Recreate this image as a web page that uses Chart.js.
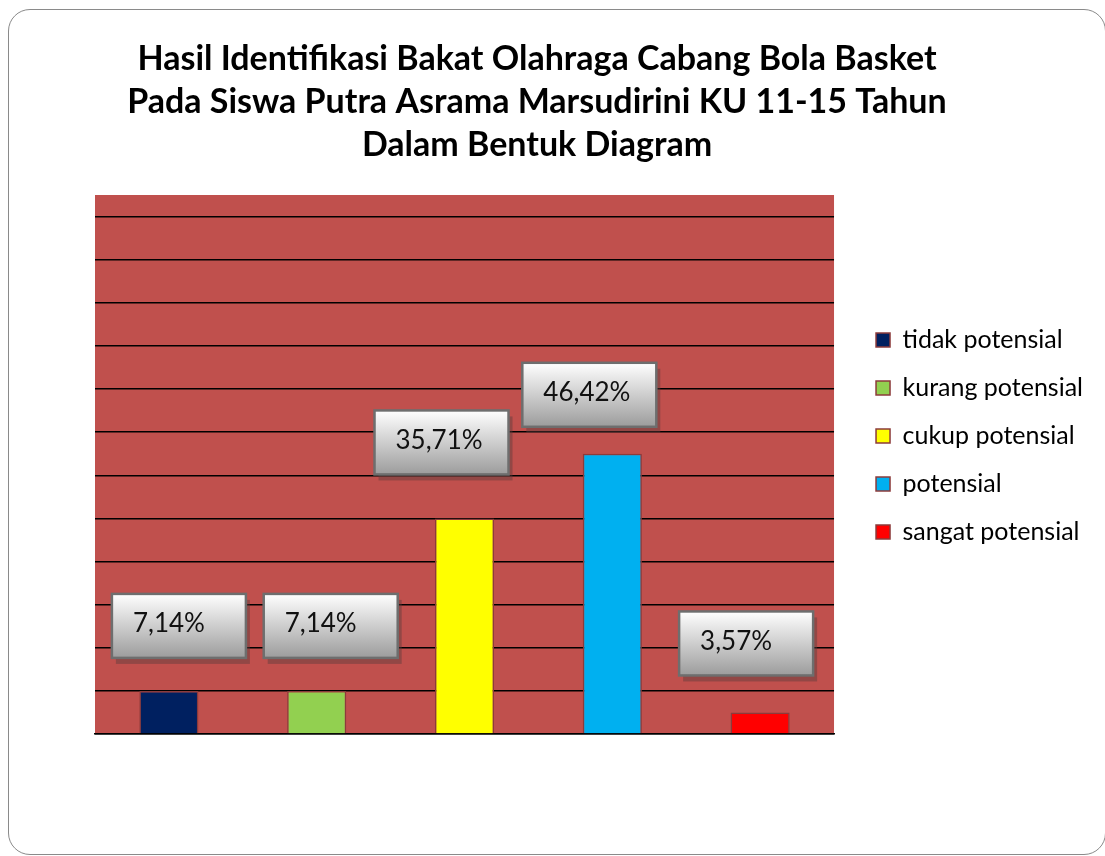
<!DOCTYPE html>
<html>
<head>
<meta charset="utf-8">
<script src="https://cdn.jsdelivr.net/npm/chart.js@4"></script>
<style>
  html, body { margin: 0; padding: 0; background: #fff; overflow: hidden; }
  #frame { position: absolute; left: 8px; top: 9px; width: 1096px; height: 844px;
           border: 1.5px solid #8a8a8a; border-radius: 22px; }
  #wrap { position: absolute; left: 0; top: 0; width: 1105px; height: 856px; }
</style>
</head>
<body>
<div id="frame"></div>
<div id="wrap"><canvas id="barChart" width="1105" height="856"></canvas></div>
<script>
var categories = ["tidak potensial", "kurang potensial", "cukup potensial", "potensial", "sangat potensial"];
var percentages = [7.14, 7.14, 35.71, 46.42, 3.57];
var barColors = ["#002060", "#92D050", "#FFFF00", "#00B0F0", "#FF0000"];
var titleLines = [
  "Hasil Identifikasi Bakat Olahraga Cabang Bola Basket",
  "Pada Siswa Putra Asrama Marsudirini KU 11-15 Tahun",
  "Dalam Bentuk Diagram"
];
var yStep = 100 / 14;
var yMax = 89.29;

// where each value box sits, relative to the top of its bar (dx, dy)
var labelNudge = [[10, -33], [14, -33], [-23, -44], [-23, -27], [-14, -37]];
// legend nudge (dx, dy)
var legendShift = [19, 65];

function fmt(v) {
  return v.toFixed(2).replace(".", ",") + "%";
}

var plotBackground = {
  id: "plotBackground",
  beforeDraw: function (chart) {
    var a = chart.chartArea;
    var ctx = chart.ctx;
    ctx.save();
    ctx.fillStyle = "#C0504D";
    ctx.fillRect(a.left, a.top, a.right - a.left, a.bottom - a.top);
    ctx.restore();
  }
};

var moveLegend = {
  id: "moveLegend",
  afterLayout: function (chart) {
    var lg = chart.legend;
    lg.left += legendShift[0];
    lg.right += legendShift[0];
    lg.top += legendShift[1];
    lg.bottom += legendShift[1];
  }
};

var valueBoxes = {
  id: "valueBoxes",
  afterDatasetsDraw: function (chart) {
    var ctx = chart.ctx;
    var meta = chart.getDatasetMeta(0);
    var w = 134, h = 64;
    ctx.save();
    meta.data.forEach(function (bar, i) {
      var cx = bar.x + labelNudge[i][0];
      var bottom = bar.y + labelNudge[i][1];
      var left = cx - w / 2;
      var top = bottom - h;
      ctx.fillStyle = "rgba(90,60,60,0.45)";
      ctx.fillRect(left + 4, top + 6, w, h);
      var g = ctx.createLinearGradient(0, top, 0, top + h);
      g.addColorStop(0, "#ffffff");
      g.addColorStop(1, "#9c9c9c");
      ctx.fillStyle = g;
      ctx.fillRect(left, top, w, h);
      ctx.strokeStyle = "#6e6e6e";
      ctx.lineWidth = 2.5;
      ctx.strokeRect(left, top, w, h);
      ctx.fillStyle = "#111";
      ctx.font = "26px Lato";
      ctx.textAlign = "left";
      ctx.textBaseline = "middle";
      ctx.fillText(fmt(percentages[i]), left + 21, top + h / 2 - 2);
    });
    ctx.restore();
  }
};

function drawChart() {
  const ctx = document.getElementById("barChart");

  var chart = new Chart(ctx, {
    type: "bar",
    data: {
      labels: categories,
      datasets: [
        {
          label: "Persentase",
          data: percentages,
          backgroundColor: barColors,
          borderColor: "#8C3B3B",
          borderWidth: 1.5,
          categoryPercentage: 1,
          barPercentage: 0.4
        }
      ]
    },
    options: {
      responsive: false,
      animation: false,
      layout: { padding: { left: 0, right: 31, top: 0, bottom: 114 } },
      plugins: {
        title: {
          display: true,
          text: titleLines,
          color: "#000",
          font: { family: "Lato", size: 34, weight: "bold", lineHeight: 43 / 34 },
          padding: { top: 38, bottom: 28 }
        },
        legend: {
          position: "right",
          onClick: function () {},
          labels: {
            boxWidth: 14,
            boxHeight: 14,
            padding: 23,
            color: "#000",
            font: { family: "Lato", size: 25 },
            generateLabels: function () {
              return categories.map(function (c, i) {
                return {
                  text: c,
                  fillStyle: barColors[i],
                  strokeStyle: "#8C3B3B",
                  lineWidth: 1.5,
                  hidden: false,
                  index: i
                };
              });
            }
          }
        },
        tooltip: { enabled: false }
      },
      scales: {
        x: {
          grid: { display: false },
          border: { display: true, color: "#000", width: 1.5 },
          ticks: { display: false }
        },
        y: {
          min: 0,
          max: yMax,
          afterBuildTicks: function (scale) {
            scale.ticks = scale.ticks.filter(function (t) { return t.value < yMax - 1; });
          },
          afterFit: function (scale) { scale.width = 95; },
          ticks: { display: false, stepSize: yStep },
          grid: { color: "#000", lineWidth: 1.5, drawTicks: false },
          border: { display: false }
        }
      }
    },
    plugins: [plotBackground, moveLegend, valueBoxes]
  });
}

Promise.all([
  document.fonts.load("25px Lato"),
  document.fonts.load("bold 34px Lato")
]).then(drawChart, drawChart);
</script>
</body>
</html>
